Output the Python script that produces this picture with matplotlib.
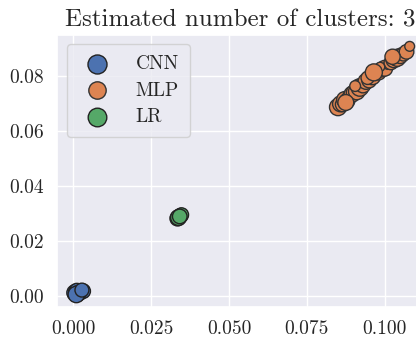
import matplotlib
matplotlib.use('Agg')
import matplotlib.pyplot as plt
import seaborn as sns

sns.set_theme(style='darkgrid')
plt.rcParams['font.family'] = 'serif'
plt.rcParams['font.serif'] = ['cmr10']
plt.rcParams['mathtext.fontset'] = 'cm'
plt.rcParams['axes.formatter.use_mathtext'] = True

# cluster points
cnn_x = [0.0005, 0.0010, 0.0015, 0.0020, 0.0008, 0.0012, 0.0025, 0.0032, 0.0018, 0.0010, 0.0028]
cnn_y = [0.0010, 0.0015, 0.0005, 0.0012, 0.0008, 0.0018, 0.0014, 0.0016, 0.0010, 0.0004, 0.0020]
cnn_s = [130, 120, 110, 130, 100, 110, 100, 110, 120, 140, 100]

mlp_x = [0.0850, 0.0858, 0.0865, 0.0872, 0.0880, 0.0888, 0.0895, 0.0900, 0.0910,
         0.0915, 0.0920, 0.0930, 0.0935, 0.0940, 0.0950, 0.0955, 0.0960, 0.0970,
         0.0980, 0.0990, 0.1000, 0.1010, 0.1020, 0.1030, 0.1040, 0.1050, 0.1060,
         0.1070, 0.1080, 0.0905, 0.0945, 0.0985, 0.1025, 0.0875, 0.0965]
mlp_y = [0.0688, 0.0700, 0.0698, 0.0715, 0.0712, 0.0728, 0.0735, 0.0742, 0.0745,
         0.0757, 0.0760, 0.0768, 0.0775, 0.0782, 0.0785, 0.0798, 0.0800, 0.0808,
         0.0815, 0.0825, 0.0830, 0.0842, 0.0850, 0.0862, 0.0868, 0.0875, 0.0882,
         0.0890, 0.0910, 0.0765, 0.0795, 0.0835, 0.0872, 0.0705, 0.0815]
mlp_s = [150, 130, 110, 140, 120, 100, 130, 110, 140, 60, 160, 120, 40, 130, 110,
         100, 140, 40, 120, 110, 130, 40, 100, 140, 150, 120, 100, 110, 50, 60, 90,
         45, 120, 130, 150]

lr_x = [0.0335, 0.0340, 0.0345, 0.0338, 0.0348, 0.0342]
lr_y = [0.0282, 0.0287, 0.0292, 0.0285, 0.0295, 0.0289]
lr_s = [120, 110, 110, 130, 100, 110]

colors = sns.color_palette('deep')

fig = plt.figure(figsize=(4.16, 3.39), dpi=100)
ax = fig.add_axes([0.137, 0.095, 0.88, 0.803])
ax.scatter(cnn_x, cnn_y, s=cnn_s, c=[colors[0]], edgecolors='#222222', linewidths=1.0, label='CNN')
ax.scatter(mlp_x, mlp_y, s=mlp_s, c=[colors[1]], edgecolors='#333333', linewidths=1.0, label='MLP')
ax.scatter(lr_x, lr_y, s=lr_s, c=[colors[2]], edgecolors='#222222', linewidths=1.0, label='LR')
ax.set_xlim(-0.0052, 0.1123)
ax.set_ylim(-0.0041, 0.0953)
ax.set_xticks([0.0, 0.025, 0.05, 0.075, 0.1])
ax.set_xticklabels(['0.000', '0.025', '0.050', '0.075', '0.100'])
ax.set_yticks([0.0, 0.02, 0.04, 0.06, 0.08])
ax.set_yticklabels(['0.00', '0.02', '0.04', '0.06', '0.08'])
ax.tick_params(labelsize=14)
ax.set_title('Estimated number of clusters: 3', fontsize=18)
leg = ax.legend(loc='upper left', frameon=True, fontsize=14, markerscale=1.25,
                borderpad=0.55, handletextpad=1.0, labelspacing=0.45)
fig.savefig('out.png', dpi=100)
